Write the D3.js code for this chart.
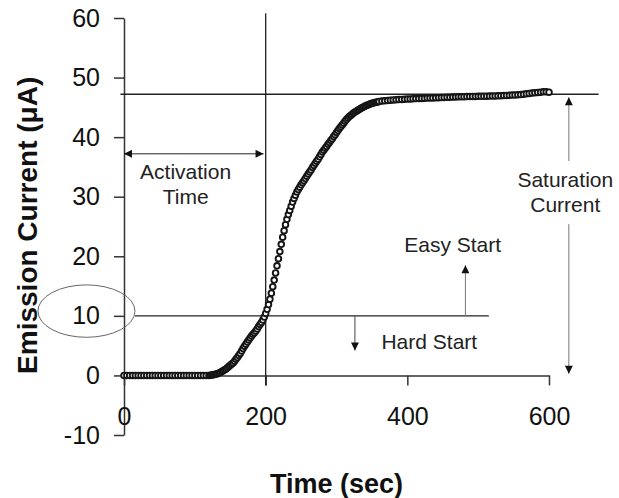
<!DOCTYPE html>
<html>
<head>
<meta charset="utf-8">
<script src="https://cdn.jsdelivr.net/npm/d3@7"></script>
<style>
  body { margin: 0; background: #fff; }
  svg { display: block; font-family: Arial, "Liberation Sans", sans-serif; }
</style>
</head>
<body>
<svg id="chart" width="619" height="498"></svg>
<script>
// emission current vs time
const times = [
  0, 4, 8, 12, 16, 20, 24, 28, 32, 36, 40, 44, 48, 52, 56, 60, 64, 68, 72, 76,
  80, 84, 88, 92, 96, 100, 104, 108, 112, 116, 120,
  122, 124, 126, 128, 130, 132, 134, 136, 138, 140, 142, 144, 146, 148, 150, 152, 154, 156, 158,
  160, 162, 164, 166, 168, 170, 172, 174, 176, 178, 180, 182, 184, 186, 188, 190, 192, 194, 196, 198,
  200, 202, 204, 206, 208, 210, 212, 214, 216, 218, 220, 222, 224, 226, 228, 230, 232, 234, 236, 238,
  240, 242, 244, 246, 248, 250, 252, 254, 256, 258, 260, 262, 264, 266, 268, 270, 272, 274, 276, 278,
  280, 282, 284, 286, 288, 290, 292, 294, 296, 298, 300, 302, 304, 306, 308, 310, 312, 314, 316, 318,
  320, 322, 324, 326, 328, 330, 332, 334, 336, 338, 340, 342, 344, 346, 348, 350, 352, 354, 356, 358, 360,
  364, 368, 372, 376, 380, 384, 388, 392, 396, 400, 404, 408, 412, 416, 420, 424, 428, 432, 436,
  440, 444, 448, 452, 456, 460, 464, 468, 472, 476, 480, 484, 488, 492, 496, 500, 504, 508, 512, 516,
  520, 524, 528, 532, 536, 540, 544, 548, 552, 556, 560, 564, 568, 572, 576, 580, 584, 588, 592, 596, 600
]
const current = [
  0, 0, 0, 0, 0, 0, 0, 0, 0, 0, 0, 0, 0, 0, 0, 0, 0, 0, 0, 0,
  0, 0, 0, 0, 0, 0, 0, 0, 0, 0, 0,
  0.03, 0.06, 0.1, 0.15, 0.22, 0.3, 0.4, 0.5, 0.65, 0.8, 0.95, 1.1, 1.3, 1.5, 1.7, 1.9, 2.1, 2.4, 2.7,
  3.0, 3.35, 3.7, 4.1, 4.5, 4.9, 5.25, 5.6, 5.95, 6.3, 6.6, 6.9, 7.15, 7.45, 7.8, 8.2, 8.55, 8.9, 9.3, 9.8,
  10.4, 11.1, 11.9, 12.8, 13.8, 14.9, 16.0, 17.2, 18.4, 19.6, 20.8, 22.0, 23.2, 24.3, 25.3, 26.2, 27.0, 27.7, 28.4, 29.1,
  29.7, 30.25, 30.8, 31.2, 31.6, 32.0, 32.35, 32.7, 33.05, 33.45, 33.8, 34.15, 34.5, 34.9, 35.25, 35.6, 35.95, 36.3, 36.7, 37.1,
  37.5, 37.8, 38.15, 38.45, 38.8, 39.1, 39.45, 39.75, 40.1, 40.4, 40.8, 41.1, 41.45, 41.75, 42.05, 42.35, 42.65, 42.95, 43.2, 43.45,
  43.65, 43.85, 44.05, 44.2, 44.35, 44.5, 44.65, 44.8, 44.95, 45.05, 45.2, 45.3, 45.4, 45.5, 45.6, 45.7, 45.75, 45.8, 45.85, 45.9, 46.0,
  46.05, 46.1, 46.15, 46.2, 46.25, 46.28, 46.3, 46.33, 46.36, 46.4, 46.42, 46.45, 46.47, 46.49, 46.5, 46.52, 46.55, 46.57, 46.59,
  46.6, 46.62, 46.65, 46.67, 46.69, 46.7, 46.72, 46.74, 46.76, 46.78, 46.8, 46.81, 46.82, 46.83, 46.84, 46.85, 46.86, 46.87, 46.88, 46.89,
  46.9, 46.92, 46.94, 46.96, 46.98, 47.0, 47.03, 47.06, 47.09, 47.12, 47.15, 47.2, 47.27, 47.34, 47.4, 47.45, 47.5, 47.55, 47.6, 47.6, 47.55
]
const xTicks = [0, 200, 400, 600]
const yTicks = [-10, 0, 10, 20, 30, 40, 50, 60]

// annotation values (in data units)
const activationTime = 200
const saturationCurrent = 47.2
const startThreshold = 10

const svg = d3.select("#chart")
const x = d3.scaleLinear().domain([0, 600]).range([124, 549])
const y = d3.scaleLinear().domain([-10, 60]).range([435, 18])

// arrow heads
const defs = svg.append("defs")
defs.append("marker")
  .attr("id", "head")
  .attr("viewBox", "0 0 10 10")
  .attr("refX", 10).attr("refY", 5)
  .attr("markerWidth", 10).attr("markerHeight", 8)
  .attr("markerUnits", "userSpaceOnUse")
  .attr("orient", "auto-start-reverse")
  .append("path")
  .attr("d", "M0,0L10,5L0,10Z")
  .attr("fill", "#111")

// y axis (plain hyphen for negatives, like the original)
const yAxis = svg.append("g")
  .attr("transform", `translate(${x(0)},0)`)
  .call(d3.axisLeft(y).tickValues(yTicks).tickFormat(d => String(d))
    .tickSize(10).tickSizeOuter(0).tickPadding(14))
yAxis.select(".domain").attr("stroke", "#333").attr("stroke-width", 1.5)
yAxis.selectAll(".tick line").attr("stroke", "#333").attr("stroke-width", 1.5)
yAxis.selectAll("text")
  .attr("font-size", 25).attr("fill", "#111")
  .attr("font-family", "Arial, 'Liberation Sans', sans-serif")

// x axis
const xAxis = svg.append("g")
  .attr("transform", `translate(0,${y(0)})`)
  .call(d3.axisBottom(x).tickValues(xTicks).tickFormat(d => String(d))
    .tickSize(10).tickSizeOuter(0).tickPadding(22))
xAxis.select(".domain").attr("stroke", "#333").attr("stroke-width", 1.5)
xAxis.selectAll(".tick line").attr("stroke", "#333").attr("stroke-width", 1.5)
xAxis.selectAll("text")
  .attr("font-size", 25).attr("fill", "#111")
  .attr("font-family", "Arial, 'Liberation Sans', sans-serif")

// axis titles
svg.append("text")
  .attr("x", x(300)).attr("y", 493)
  .attr("text-anchor", "middle")
  .attr("font-size", 27).attr("font-weight", "bold").attr("fill", "#111")
  .text("Time (sec)")
svg.append("text")
  .attr("transform", `translate(37,${y(25.2)}) rotate(-90)`)
  .attr("text-anchor", "middle")
  .attr("font-size", 28).attr("font-weight", "bold").attr("fill", "#111")
  .text("Emission Current (μA)")

// reference lines
const lineColor = "#222"
svg.append("line")
  .attr("x1", x(-5)).attr("x2", x(670))
  .attr("y1", y(saturationCurrent)).attr("y2", y(saturationCurrent))
  .attr("stroke", lineColor).attr("stroke-width", 1.3)
svg.append("line")
  .attr("x1", x(activationTime)).attr("x2", x(activationTime))
  .attr("y1", y(60.8)).attr("y2", y(-1.7))
  .attr("stroke", lineColor).attr("stroke-width", 1.3)
svg.append("line")
  .attr("x1", x(15.5)).attr("x2", x(515))
  .attr("y1", y(startThreshold)).attr("y2", y(startThreshold))
  .attr("stroke", lineColor).attr("stroke-width", 1.3)

// ellipse round the 10 label
svg.append("ellipse")
  .attr("cx", x(-53)).attr("cy", y(10.8))
  .attr("rx", x(0) - x(-68.5)).attr("ry", y(10.8) - y(15.2))
  .attr("fill", "none").attr("stroke", "#666").attr("stroke-width", 1)

// activation time arrow
svg.append("line")
  .attr("x1", x(0)).attr("x2", x(197))
  .attr("y1", y(37.2)).attr("y2", y(37.2))
  .attr("stroke", lineColor).attr("stroke-width", 1)
  .attr("marker-start", "url(#head)").attr("marker-end", "url(#head)")

// saturation current arrow, split round the label
svg.append("line")
  .attr("x1", x(628)).attr("x2", x(628))
  .attr("y1", y(36)).attr("y2", y(46.7))
  .attr("stroke", "#777").attr("stroke-width", 1)
  .attr("marker-end", "url(#head)")
svg.append("line")
  .attr("x1", x(628)).attr("x2", x(628))
  .attr("y1", y(25.4)).attr("y2", y(0.3))
  .attr("stroke", "#777").attr("stroke-width", 1)
  .attr("marker-end", "url(#head)")

// easy / hard start arrows
svg.append("line")
  .attr("x1", x(482)).attr("x2", x(482))
  .attr("y1", y(startThreshold)).attr("y2", y(18.5))
  .attr("stroke", "#777").attr("stroke-width", 1)
  .attr("marker-end", "url(#head)")
svg.append("line")
  .attr("x1", x(326)).attr("x2", x(326))
  .attr("y1", y(startThreshold)).attr("y2", y(4.2))
  .attr("stroke", "#444").attr("stroke-width", 1)
  .attr("marker-end", "url(#head)")

// annotation labels
const labels = [
  { t: 87, v: 33.0, text: "Activation" },
  { t: 87, v: 28.8, text: "Time" },
  { t: 623, v: 31.6, text: "Saturation" },
  { t: 623, v: 27.4, text: "Current" },
  { t: 464, v: 20.8, text: "Easy Start" },
  { t: 431, v: 4.5, text: "Hard Start" }
]
svg.selectAll("text.note")
  .data(labels)
  .join("text")
  .attr("class", "note")
  .attr("x", d => x(d.t)).attr("y", d => y(d.v))
  .attr("text-anchor", "middle")
  .attr("font-size", 21).attr("fill", "#222")
  .text(d => d.text)

// data markers (open circles, dark rims)
const points = times.map((t, i) => ({ t: t, v: current[i] }))
svg.append("g")
  .selectAll("circle")
  .data(points)
  .join("circle")
  .attr("cx", d => x(d.t))
  .attr("cy", d => y(d.v))
  .attr("r", 2.8)
  .attr("fill", "#fff")
  .attr("stroke", "#151515")
  .attr("stroke-width", 1.9)
</script>
</body>
</html>
